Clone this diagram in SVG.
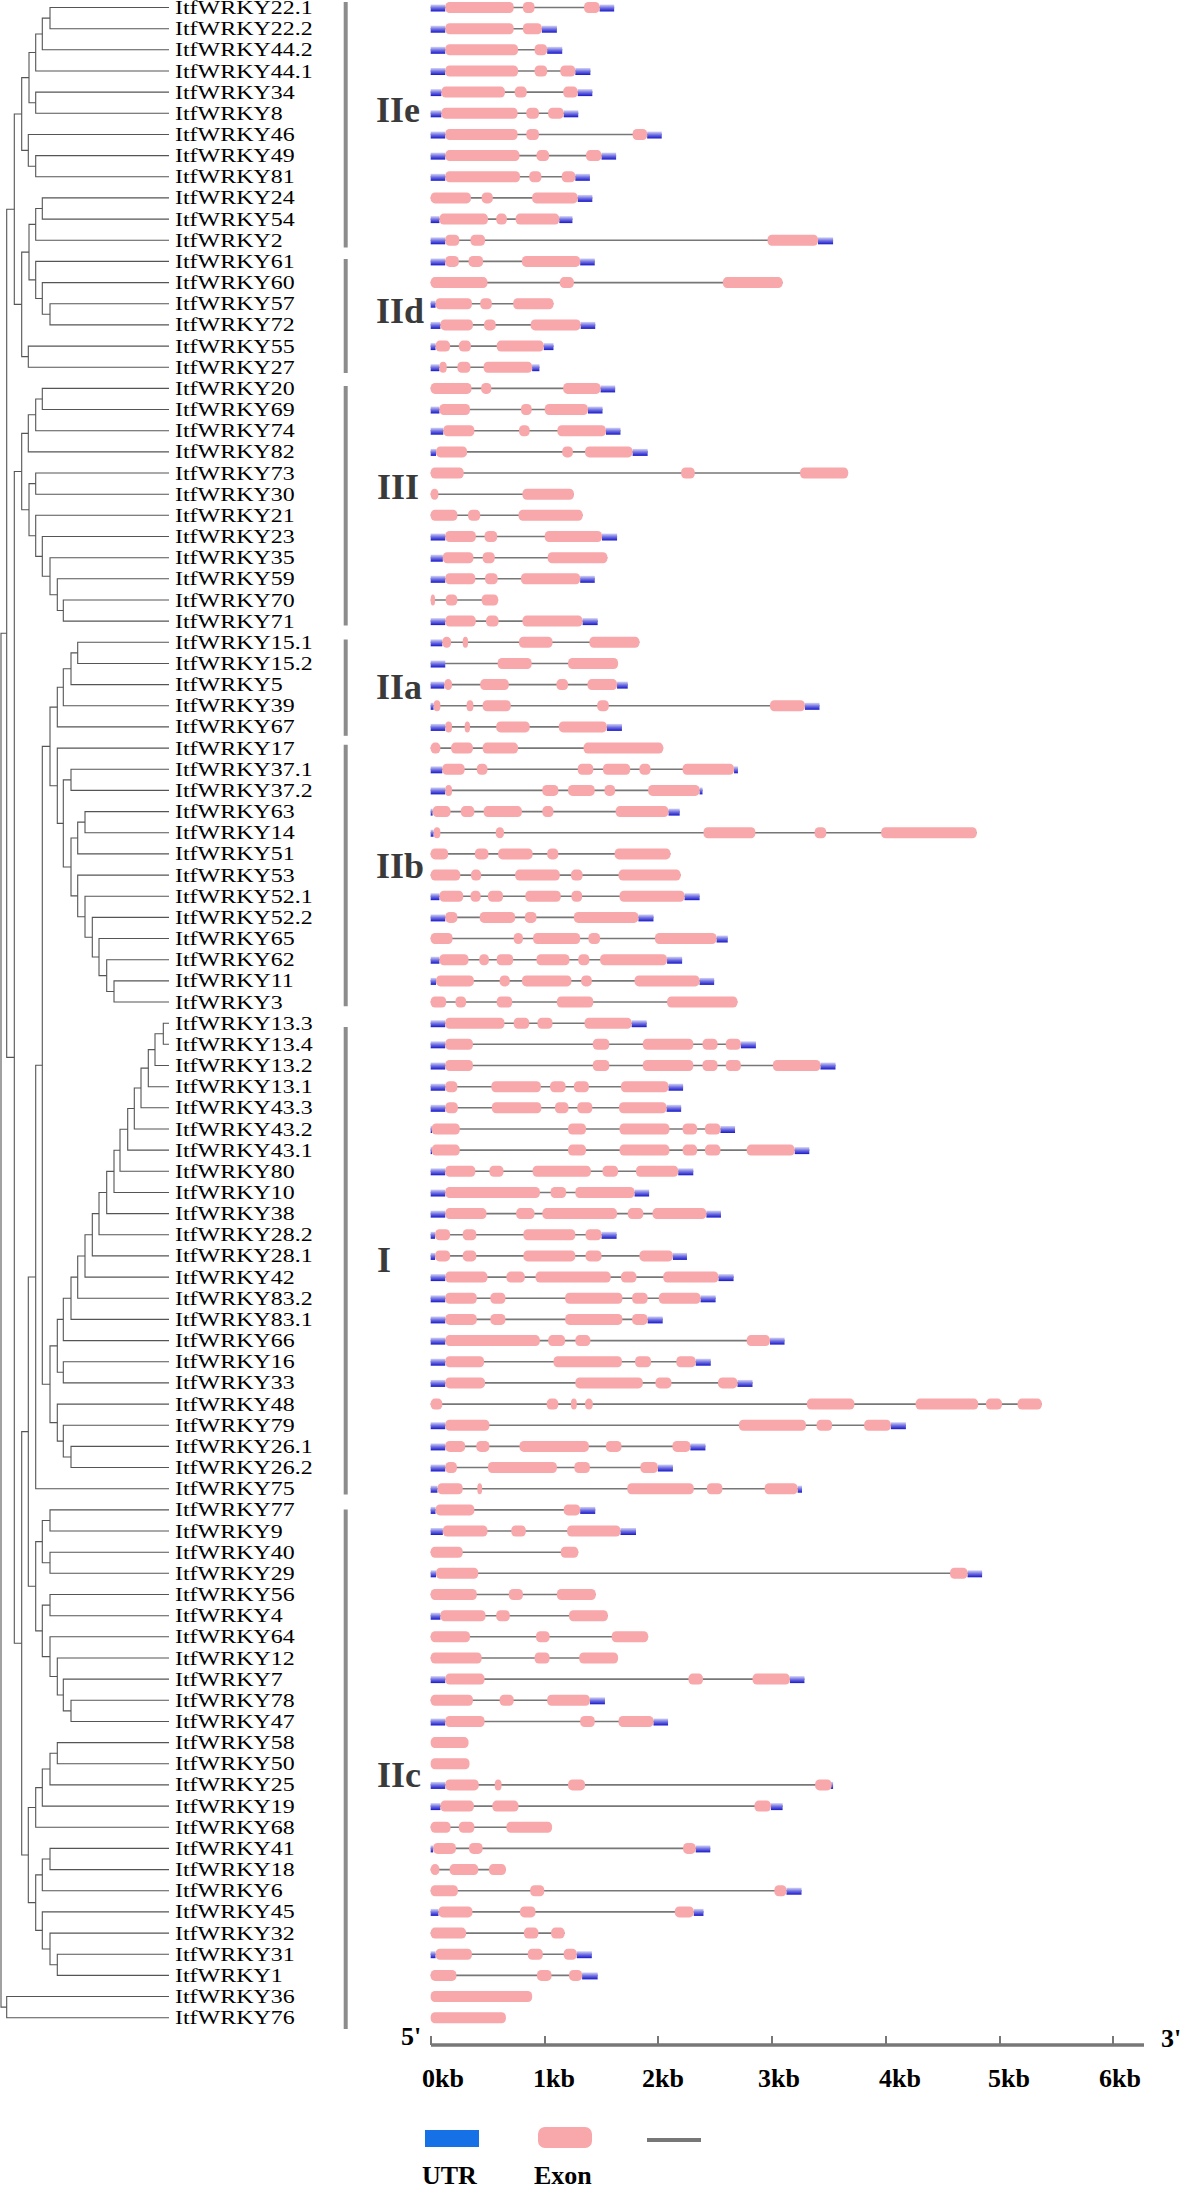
<svg xmlns="http://www.w3.org/2000/svg" width="1181" height="2186" viewBox="0 0 1181 2186">
<defs>
<linearGradient id="ug" x1="0" y1="0" x2="0" y2="1">
<stop offset="0" stop-color="#d4d4f6"/><stop offset="0.5" stop-color="#6c6ce2"/><stop offset="1" stop-color="#1818c8"/>
</linearGradient>
<style>
text.l{font-family:"Liberation Serif","Times New Roman",serif;font-size:19px;fill:#000}
.grp{font-family:"Liberation Serif","Times New Roman",serif;font-weight:bold;font-size:36px;fill:#3a3a3a}
.ax{font-family:"Liberation Serif","Times New Roman",serif;font-weight:bold;font-size:26px;fill:#000}
.i{stroke:#777;stroke-width:1.6}
.u{fill:url(#ug)}
.e{fill:#f8a8aa}
#connectors path{fill:none;stroke:#555;stroke-width:1.1}
.bar{stroke:#8c8c8c;stroke-width:4}
</style>
</defs>
<rect width="1181" height="2186" fill="#fff"/>
<g id="connectors">
<path d="M169 7.5H50V28.7H169"/><path d="M50 18.1H42.3V49.8H169"/><path d="M42.3 34H35.7V71H169"/><path d="M169 92.1H35.7V113.3H169"/><path d="M35.7 52.5H29V102.7H35.7"/><path d="M169 155.6H35.7V176.8H169"/><path d="M169 134.5H28.3V166.2H35.7"/><path d="M29 77.6H21.7V150.35H28.3"/>
<path d="M169 197.9H42.3V219.1H169"/><path d="M42.3 208.5H35.7V240.3H169"/><path d="M169 303.7H50V324.9H169"/><path d="M169 282.6H42.3V314.3H50"/><path d="M169 261.4H35.7V298.45H42.3"/><path d="M35.7 224.4H29V279.9H35.7"/><path d="M169 346.1H28.3V367.2H169"/><path d="M29 252.15H21.7V356.65H28.3"/><path d="M21.7 114H14.3V304.4H21.7"/>
<path d="M169 388.4H42.3V409.5H169"/><path d="M42.3 398.95H35.7V430.7H169"/><path d="M35.7 414.8H28.3V451.9H169"/><path d="M169 473H35.7V494.2H169"/><path d="M169 600H63.3V621.1H169"/><path d="M169 578.8H57.3V610.55H63.3"/><path d="M169 557.7H50V594.7H57.3"/><path d="M169 536.5H42.3V576.2H50"/><path d="M169 515.3H35.7V556.35H42.3"/><path d="M35.7 483.6H29V535.8H35.7"/><path d="M28.3 433.35H21.7V509.7H29"/>
<path d="M169 642.3H77.7V663.5H169"/><path d="M77.7 652.9H71V684.6H169"/><path d="M71 668.75H63.3V705.8H169"/><path d="M63.3 687.3H57.3V726.9H169"/>
<path d="M169 769.3H71V790.4H169"/><path d="M169 811.6H85V832.7H169"/><path d="M85 822.15H77.7V853.9H169"/><path d="M169 980.9H114V1002H169"/><path d="M169 959.7H106.7V991.45H114"/><path d="M169 938.5H99V975.6H106.7"/><path d="M169 917.4H92.3V957.05H99"/><path d="M169 896.2H85V937.2H92.3"/><path d="M169 875.1H77.7V916.7H85"/><path d="M77.7 838H71V895.9H77.7"/><path d="M71 779.85H63.3V866.95H71"/><path d="M169 748.1H57.3V823.4H63.3"/><path d="M57.3 707.1H50V785.75H57.3"/>
<path d="M169 1023.2H163.3V1044.3H169"/><path d="M163.3 1033.75H155V1065.5H169"/><path d="M155 1049.6H148.3V1086.7H169"/><path d="M148.3 1068.15H141V1107.8H169"/><path d="M141 1088H134.3V1129H169"/><path d="M134.3 1108.5H127.7V1150.1H169"/><path d="M127.7 1129.3H120V1171.3H169"/><path d="M120 1150.3H114V1192.5H169"/><path d="M114 1171.4H106.7V1213.6H169"/><path d="M106.7 1192.5H99V1234.8H169"/><path d="M99 1213.65H92.3V1255.9H169"/><path d="M92.3 1234.8H85V1277.1H169"/><path d="M85 1255.95H77.7V1298.3H169"/><path d="M77.7 1277.1H71V1319.4H169"/><path d="M71 1298.25H63.3V1340.6H169"/><path d="M169 1361.7H63.3V1382.9H169"/><path d="M63.3 1319.4H57.3V1372.3H63.3"/><path d="M169 1446.4H71V1467.5H169"/><path d="M169 1425.2H63.3V1456.95H71"/><path d="M169 1404.1H57.3V1441.1H63.3"/><path d="M57.3 1345.85H50V1422.6H57.3"/>
<path d="M50 746.4H42.3V1384.2H50"/><path d="M42.3 1065.3H35.7V1488.7H169"/>
<path d="M169 1509.9H50V1531H169"/><path d="M169 1552.2H50V1573.3H169"/><path d="M50 1520.45H42.3V1562.75H50"/><path d="M169 1594.5H50V1615.7H169"/><path d="M169 1700.3H71V1721.5H169"/><path d="M169 1679.1H63.3V1710.9H71"/><path d="M169 1658H57.3V1695H63.3"/><path d="M169 1636.8H50V1676.5H57.3"/><path d="M50 1605.1H42.3V1656.65H50"/><path d="M42.3 1541.6H35.7V1630.9H42.3"/><path d="M35.7 1277H28.3V1586.25H35.7"/>
<path d="M169 1742.6H57.3V1763.8H169"/><path d="M57.3 1753.2H50V1784.9H169"/><path d="M50 1769.05H42.3V1806.1H169"/><path d="M42.3 1787.6H35.7V1827.3H169"/><path d="M169 1848.4H50V1869.6H169"/><path d="M50 1859H42.3V1890.7H169"/><path d="M169 1954.2H57.3V1975.4H169"/><path d="M169 1933.1H50V1964.8H57.3"/><path d="M169 1911.9H42.3V1948.95H50"/><path d="M42.3 1874.85H35.7V1930.4H42.3"/><path d="M35.7 1807.45H28.3V1902.6H35.7"/>
<path d="M28.3 1431.6H21.7V1855H28.3"/><path d="M21.7 471.5H14.3V1643.3H21.7"/><path d="M14.3 209.2H6.7V1057.4H14.3"/><path d="M169 1996.5H6.7V2017.7H169"/><path d="M6.7 633.3H1V2007.1H6.7"/>
</g>
<g id="groups">
<line class="bar" x1="345.7" y1="2" x2="345.7" y2="247.5"/><text class="grp" x="376" y="122">IIe</text>
<line class="bar" x1="345.7" y1="259" x2="345.7" y2="373"/><text class="grp" x="376" y="323">IId</text>
<line class="bar" x1="345.7" y1="386" x2="345.7" y2="625.6"/><text class="grp" x="377" y="499">III</text>
<line class="bar" x1="345.7" y1="639.5" x2="345.7" y2="735.8"/><text class="grp" x="376" y="699">IIa</text>
<line class="bar" x1="345.7" y1="744.8" x2="345.7" y2="1006.2"/><text class="grp" x="376" y="878">IIb</text>
<line class="bar" x1="345.7" y1="1027" x2="345.7" y2="1494.5"/><text class="grp" x="377" y="1272">I</text>
<line class="bar" x1="345.7" y1="1509.4" x2="345.7" y2="2029"/><text class="grp" x="377" y="1787">IIc</text>
</g>
<g id="genes">
<g id="WRKY22_1" transform="translate(0 7.5)"><text class="l" transform="matrix(1.26 0 0 1 175 6.5)">ItfWRKY22.1</text><g transform="matrix(.4854 0 0 1 420 0)"><line class="i" x1="22" x2="400"/><rect class="u" x="22" y="-3" width="30" height="7"/><rect class="u" x="370" y="-3" width="30" height="7"/><rect class="e" x="52" y="-5.5" width="141" height="11" rx="9" ry="4.5"/><rect class="e" x="212" y="-5.5" width="24" height="11" rx="9" ry="4.5"/><rect class="e" x="338" y="-5.5" width="32" height="11" rx="9" ry="4.5"/></g></g>
<g id="WRKY22_2" transform="translate(0 28.7)"><text class="l" transform="matrix(1.26 0 0 1 175 6.5)">ItfWRKY22.2</text><g transform="matrix(.4854 0 0 1 420 0)"><line class="i" x1="22" x2="282"/><rect class="u" x="22" y="-3" width="30" height="7"/><rect class="u" x="251" y="-3" width="31" height="7"/><rect class="e" x="52" y="-5.5" width="141" height="11" rx="9" ry="4.5"/><rect class="e" x="212" y="-5.5" width="39" height="11" rx="9" ry="4.5"/></g></g>
<g id="WRKY44_2" transform="translate(0 49.8)"><text class="l" transform="matrix(1.26 0 0 1 175 6.5)">ItfWRKY44.2</text><g transform="matrix(.4854 0 0 1 420 0)"><line class="i" x1="22" x2="293"/><rect class="u" x="22" y="-3" width="30" height="7"/><rect class="u" x="262" y="-3" width="31" height="7"/><rect class="e" x="52" y="-5.5" width="150" height="11" rx="9" ry="4.5"/><rect class="e" x="236" y="-5.5" width="26" height="11" rx="9" ry="4.5"/></g></g>
<g id="WRKY44_1" transform="translate(0 71)"><text class="l" transform="matrix(1.26 0 0 1 175 6.5)">ItfWRKY44.1</text><g transform="matrix(.4854 0 0 1 420 0)"><line class="i" x1="22" x2="351"/><rect class="u" x="22" y="-3" width="30" height="7"/><rect class="u" x="320" y="-3" width="31" height="7"/><rect class="e" x="52" y="-5.5" width="150" height="11" rx="9" ry="4.5"/><rect class="e" x="236" y="-5.5" width="26" height="11" rx="9" ry="4.5"/><rect class="e" x="289" y="-5.5" width="31" height="11" rx="9" ry="4.5"/></g></g>
<g id="WRKY34" transform="translate(0 92.1)"><text class="l" transform="matrix(1.26 0 0 1 175 6.5)">ItfWRKY34</text><g transform="matrix(.4854 0 0 1 420 0)"><line class="i" x1="22" x2="355"/><rect class="u" x="22" y="-3" width="22" height="7"/><rect class="u" x="325" y="-3" width="30" height="7"/><rect class="e" x="44" y="-5.5" width="131" height="11" rx="9" ry="4.5"/><rect class="e" x="195" y="-5.5" width="25" height="11" rx="9" ry="4.5"/><rect class="e" x="295" y="-5.5" width="30" height="11" rx="9" ry="4.5"/></g></g>
<g id="WRKY8" transform="translate(0 113.3)"><text class="l" transform="matrix(1.26 0 0 1 175 6.5)">ItfWRKY8</text><g transform="matrix(.4854 0 0 1 420 0)"><line class="i" x1="22" x2="326"/><rect class="u" x="22" y="-3" width="22" height="7"/><rect class="u" x="296" y="-3" width="30" height="7"/><rect class="e" x="44" y="-5.5" width="157" height="11" rx="9" ry="4.5"/><rect class="e" x="219" y="-5.5" width="26" height="11" rx="9" ry="4.5"/><rect class="e" x="264" y="-5.5" width="32" height="11" rx="9" ry="4.5"/></g></g>
<g id="WRKY46" transform="translate(0 134.5)"><text class="l" transform="matrix(1.26 0 0 1 175 6.5)">ItfWRKY46</text><g transform="matrix(.4854 0 0 1 420 0)"><line class="i" x1="22" x2="498"/><rect class="u" x="22" y="-3" width="30" height="7"/><rect class="u" x="468" y="-3" width="30" height="7"/><rect class="e" x="52" y="-5.5" width="149" height="11" rx="9" ry="4.5"/><rect class="e" x="219" y="-5.5" width="26" height="11" rx="9" ry="4.5"/><rect class="e" x="438" y="-5.5" width="30" height="11" rx="9" ry="4.5"/></g></g>
<g id="WRKY49" transform="translate(0 155.6)"><text class="l" transform="matrix(1.26 0 0 1 175 6.5)">ItfWRKY49</text><g transform="matrix(.4854 0 0 1 420 0)"><line class="i" x1="22" x2="404"/><rect class="u" x="22" y="-3" width="30" height="7"/><rect class="u" x="374" y="-3" width="30" height="7"/><rect class="e" x="52" y="-5.5" width="153" height="11" rx="9" ry="4.5"/><rect class="e" x="240" y="-5.5" width="26" height="11" rx="9" ry="4.5"/><rect class="e" x="342" y="-5.5" width="32" height="11" rx="9" ry="4.5"/></g></g>
<g id="WRKY81" transform="translate(0 176.8)"><text class="l" transform="matrix(1.26 0 0 1 175 6.5)">ItfWRKY81</text><g transform="matrix(.4854 0 0 1 420 0)"><line class="i" x1="22" x2="350"/><rect class="u" x="22" y="-3" width="30" height="7"/><rect class="u" x="320" y="-3" width="30" height="7"/><rect class="e" x="52" y="-5.5" width="154" height="11" rx="9" ry="4.5"/><rect class="e" x="225" y="-5.5" width="25" height="11" rx="9" ry="4.5"/><rect class="e" x="292" y="-5.5" width="28" height="11" rx="9" ry="4.5"/></g></g>
<g id="WRKY24" transform="translate(0 197.9)"><text class="l" transform="matrix(1.26 0 0 1 175 6.5)">ItfWRKY24</text><g transform="matrix(.4854 0 0 1 420 0)"><line class="i" x1="22" x2="355"/><rect class="u" x="325" y="-3" width="30" height="7"/><rect class="e" x="22" y="-5.5" width="83" height="11" rx="9" ry="4.5"/><rect class="e" x="127" y="-5.5" width="23" height="11" rx="9" ry="4.5"/><rect class="e" x="231" y="-5.5" width="94" height="11" rx="9" ry="4.5"/></g></g>
<g id="WRKY54" transform="translate(0 219.1)"><text class="l" transform="matrix(1.26 0 0 1 175 6.5)">ItfWRKY54</text><g transform="matrix(.4854 0 0 1 420 0)"><line class="i" x1="22" x2="314"/><rect class="u" x="22" y="-3" width="18" height="7"/><rect class="u" x="287" y="-3" width="27" height="7"/><rect class="e" x="40" y="-5.5" width="100" height="11" rx="9" ry="4.5"/><rect class="e" x="157" y="-5.5" width="22" height="11" rx="9" ry="4.5"/><rect class="e" x="197" y="-5.5" width="90" height="11" rx="9" ry="4.5"/></g></g>
<g id="WRKY2" transform="translate(0 240.3)"><text class="l" transform="matrix(1.26 0 0 1 175 6.5)">ItfWRKY2</text><g transform="matrix(.4854 0 0 1 420 0)"><line class="i" x1="22" x2="851"/><rect class="u" x="22" y="-3" width="30" height="7"/><rect class="u" x="820" y="-3" width="31" height="7"/><rect class="e" x="52" y="-5.5" width="29" height="11" rx="9" ry="4.5"/><rect class="e" x="104" y="-5.5" width="30" height="11" rx="9" ry="4.5"/><rect class="e" x="716" y="-5.5" width="104" height="11" rx="9" ry="4.5"/></g></g>
<g id="WRKY61" transform="translate(0 261.4)"><text class="l" transform="matrix(1.26 0 0 1 175 6.5)">ItfWRKY61</text><g transform="matrix(.4854 0 0 1 420 0)"><line class="i" x1="22" x2="360"/><rect class="u" x="22" y="-3" width="30" height="7"/><rect class="u" x="330" y="-3" width="30" height="7"/><rect class="e" x="52" y="-5.5" width="28" height="11" rx="9" ry="4.5"/><rect class="e" x="100" y="-5.5" width="30" height="11" rx="9" ry="4.5"/><rect class="e" x="210" y="-5.5" width="120" height="11" rx="9" ry="4.5"/></g></g>
<g id="WRKY60" transform="translate(0 282.6)"><text class="l" transform="matrix(1.26 0 0 1 175 6.5)">ItfWRKY60</text><g transform="matrix(.4854 0 0 1 420 0)"><line class="i" x1="22" x2="747"/><rect class="e" x="22" y="-5.5" width="117" height="11" rx="9" ry="4.5"/><rect class="e" x="288" y="-5.5" width="29" height="11" rx="9" ry="4.5"/><rect class="e" x="624" y="-5.5" width="123" height="11" rx="9" ry="4.5"/></g></g>
<g id="WRKY57" transform="translate(0 303.7)"><text class="l" transform="matrix(1.26 0 0 1 175 6.5)">ItfWRKY57</text><g transform="matrix(.4854 0 0 1 420 0)"><line class="i" x1="22" x2="275"/><rect class="u" x="22" y="-3" width="10" height="7"/><rect class="e" x="32" y="-5.5" width="75" height="11" rx="9" ry="4.5"/><rect class="e" x="124" y="-5.5" width="24" height="11" rx="9" ry="4.5"/><rect class="e" x="192" y="-5.5" width="83" height="11" rx="9" ry="4.5"/></g></g>
<g id="WRKY72" transform="translate(0 324.9)"><text class="l" transform="matrix(1.26 0 0 1 175 6.5)">ItfWRKY72</text><g transform="matrix(.4854 0 0 1 420 0)"><line class="i" x1="22" x2="361"/><rect class="u" x="22" y="-3" width="20" height="7"/><rect class="u" x="331" y="-3" width="30" height="7"/><rect class="e" x="42" y="-5.5" width="67" height="11" rx="9" ry="4.5"/><rect class="e" x="132" y="-5.5" width="24" height="11" rx="9" ry="4.5"/><rect class="e" x="228" y="-5.5" width="103" height="11" rx="9" ry="4.5"/></g></g>
<g id="WRKY55" transform="translate(0 346.1)"><text class="l" transform="matrix(1.26 0 0 1 175 6.5)">ItfWRKY55</text><g transform="matrix(.4854 0 0 1 420 0)"><line class="i" x1="22" x2="275"/><rect class="u" x="22" y="-3" width="10" height="7"/><rect class="u" x="255" y="-3" width="20" height="7"/><rect class="e" x="32" y="-5.5" width="30" height="11" rx="9" ry="4.5"/><rect class="e" x="80" y="-5.5" width="25" height="11" rx="9" ry="4.5"/><rect class="e" x="158" y="-5.5" width="97" height="11" rx="9" ry="4.5"/></g></g>
<g id="WRKY27" transform="translate(0 367.2)"><text class="l" transform="matrix(1.26 0 0 1 175 6.5)">ItfWRKY27</text><g transform="matrix(.4854 0 0 1 420 0)"><line class="i" x1="22" x2="246"/><rect class="u" x="22" y="-3" width="18" height="7"/><rect class="u" x="231" y="-3" width="15" height="7"/><rect class="e" x="40" y="-5.5" width="15" height="11" rx="9" ry="4.5"/><rect class="e" x="77" y="-5.5" width="27" height="11" rx="9" ry="4.5"/><rect class="e" x="131" y="-5.5" width="100" height="11" rx="9" ry="4.5"/></g></g>
<g id="WRKY20" transform="translate(0 388.4)"><text class="l" transform="matrix(1.26 0 0 1 175 6.5)">ItfWRKY20</text><g transform="matrix(.4854 0 0 1 420 0)"><line class="i" x1="22" x2="402"/><rect class="u" x="372" y="-3" width="30" height="7"/><rect class="e" x="22" y="-5.5" width="84" height="11" rx="9" ry="4.5"/><rect class="e" x="126" y="-5.5" width="21" height="11" rx="9" ry="4.5"/><rect class="e" x="295" y="-5.5" width="77" height="11" rx="9" ry="4.5"/></g></g>
<g id="WRKY69" transform="translate(0 409.5)"><text class="l" transform="matrix(1.26 0 0 1 175 6.5)">ItfWRKY69</text><g transform="matrix(.4854 0 0 1 420 0)"><line class="i" x1="22" x2="376"/><rect class="u" x="22" y="-3" width="18" height="7"/><rect class="u" x="346" y="-3" width="30" height="7"/><rect class="e" x="40" y="-5.5" width="63" height="11" rx="9" ry="4.5"/><rect class="e" x="208" y="-5.5" width="22" height="11" rx="9" ry="4.5"/><rect class="e" x="257" y="-5.5" width="89" height="11" rx="9" ry="4.5"/></g></g>
<g id="WRKY74" transform="translate(0 430.7)"><text class="l" transform="matrix(1.26 0 0 1 175 6.5)">ItfWRKY74</text><g transform="matrix(.4854 0 0 1 420 0)"><line class="i" x1="22" x2="413"/><rect class="u" x="22" y="-3" width="26" height="7"/><rect class="u" x="383" y="-3" width="30" height="7"/><rect class="e" x="48" y="-5.5" width="64" height="11" rx="9" ry="4.5"/><rect class="e" x="204" y="-5.5" width="22" height="11" rx="9" ry="4.5"/><rect class="e" x="283" y="-5.5" width="100" height="11" rx="9" ry="4.5"/></g></g>
<g id="WRKY82" transform="translate(0 451.9)"><text class="l" transform="matrix(1.26 0 0 1 175 6.5)">ItfWRKY82</text><g transform="matrix(.4854 0 0 1 420 0)"><line class="i" x1="22" x2="469"/><rect class="u" x="22" y="-3" width="11" height="7"/><rect class="u" x="438" y="-3" width="31" height="7"/><rect class="e" x="33" y="-5.5" width="64" height="11" rx="9" ry="4.5"/><rect class="e" x="293" y="-5.5" width="22" height="11" rx="9" ry="4.5"/><rect class="e" x="340" y="-5.5" width="98" height="11" rx="9" ry="4.5"/></g></g>
<g id="WRKY73" transform="translate(0 473)"><text class="l" transform="matrix(1.26 0 0 1 175 6.5)">ItfWRKY73</text><g transform="matrix(.4854 0 0 1 420 0)"><line class="i" x1="22" x2="882"/><rect class="e" x="22" y="-5.5" width="68" height="11" rx="9" ry="4.5"/><rect class="e" x="538" y="-5.5" width="28" height="11" rx="9" ry="4.5"/><rect class="e" x="783" y="-5.5" width="99" height="11" rx="9" ry="4.5"/></g></g>
<g id="WRKY30" transform="translate(0 494.2)"><text class="l" transform="matrix(1.26 0 0 1 175 6.5)">ItfWRKY30</text><g transform="matrix(.4854 0 0 1 420 0)"><line class="i" x1="22" x2="317"/><rect class="e" x="22" y="-5.5" width="16" height="11" rx="9" ry="4.5"/><rect class="e" x="211" y="-5.5" width="106" height="11" rx="9" ry="4.5"/></g></g>
<g id="WRKY21" transform="translate(0 515.3)"><text class="l" transform="matrix(1.26 0 0 1 175 6.5)">ItfWRKY21</text><g transform="matrix(.4854 0 0 1 420 0)"><line class="i" x1="22" x2="335"/><rect class="e" x="22" y="-5.5" width="55" height="11" rx="9" ry="4.5"/><rect class="e" x="99" y="-5.5" width="25" height="11" rx="9" ry="4.5"/><rect class="e" x="203" y="-5.5" width="132" height="11" rx="9" ry="4.5"/></g></g>
<g id="WRKY23" transform="translate(0 536.5)"><text class="l" transform="matrix(1.26 0 0 1 175 6.5)">ItfWRKY23</text><g transform="matrix(.4854 0 0 1 420 0)"><line class="i" x1="22" x2="406"/><rect class="u" x="22" y="-3" width="30" height="7"/><rect class="u" x="375" y="-3" width="31" height="7"/><rect class="e" x="52" y="-5.5" width="63" height="11" rx="9" ry="4.5"/><rect class="e" x="133" y="-5.5" width="26" height="11" rx="9" ry="4.5"/><rect class="e" x="257" y="-5.5" width="118" height="11" rx="9" ry="4.5"/></g></g>
<g id="WRKY35" transform="translate(0 557.7)"><text class="l" transform="matrix(1.26 0 0 1 175 6.5)">ItfWRKY35</text><g transform="matrix(.4854 0 0 1 420 0)"><line class="i" x1="22" x2="386"/><rect class="u" x="22" y="-3" width="25" height="7"/><rect class="e" x="47" y="-5.5" width="63" height="11" rx="9" ry="4.5"/><rect class="e" x="129" y="-5.5" width="25" height="11" rx="9" ry="4.5"/><rect class="e" x="263" y="-5.5" width="123" height="11" rx="9" ry="4.5"/></g></g>
<g id="WRKY59" transform="translate(0 578.8)"><text class="l" transform="matrix(1.26 0 0 1 175 6.5)">ItfWRKY59</text><g transform="matrix(.4854 0 0 1 420 0)"><line class="i" x1="22" x2="360"/><rect class="u" x="22" y="-3" width="30" height="7"/><rect class="u" x="330" y="-3" width="30" height="7"/><rect class="e" x="52" y="-5.5" width="62" height="11" rx="9" ry="4.5"/><rect class="e" x="134" y="-5.5" width="26" height="11" rx="9" ry="4.5"/><rect class="e" x="208" y="-5.5" width="122" height="11" rx="9" ry="4.5"/></g></g>
<g id="WRKY70" transform="translate(0 600)"><text class="l" transform="matrix(1.26 0 0 1 175 6.5)">ItfWRKY70</text><g transform="matrix(.4854 0 0 1 420 0)"><line class="i" x1="22" x2="161"/><rect class="e" x="22" y="-5.5" width="9" height="11" rx="9" ry="4.5"/><rect class="e" x="53" y="-5.5" width="24" height="11" rx="9" ry="4.5"/><rect class="e" x="127" y="-5.5" width="34" height="11" rx="9" ry="4.5"/></g></g>
<g id="WRKY71" transform="translate(0 621.1)"><text class="l" transform="matrix(1.26 0 0 1 175 6.5)">ItfWRKY71</text><g transform="matrix(.4854 0 0 1 420 0)"><line class="i" x1="22" x2="366"/><rect class="u" x="22" y="-3" width="30" height="7"/><rect class="u" x="335" y="-3" width="31" height="7"/><rect class="e" x="52" y="-5.5" width="63" height="11" rx="9" ry="4.5"/><rect class="e" x="136" y="-5.5" width="26" height="11" rx="9" ry="4.5"/><rect class="e" x="211" y="-5.5" width="124" height="11" rx="9" ry="4.5"/></g></g>
<g id="WRKY15_1" transform="translate(0 642.3)"><text class="l" transform="matrix(1.26 0 0 1 175 6.5)">ItfWRKY15.1</text><g transform="matrix(.4854 0 0 1 420 0)"><line class="i" x1="22" x2="452"/><rect class="u" x="22" y="-3" width="24" height="7"/><rect class="e" x="46" y="-5.5" width="18" height="11" rx="9" ry="4.5"/><rect class="e" x="88" y="-5.5" width="11" height="11" rx="9" ry="4.5"/><rect class="e" x="204" y="-5.5" width="69" height="11" rx="9" ry="4.5"/><rect class="e" x="349" y="-5.5" width="103" height="11" rx="9" ry="4.5"/></g></g>
<g id="WRKY15_2" transform="translate(0 663.5)"><text class="l" transform="matrix(1.26 0 0 1 175 6.5)">ItfWRKY15.2</text><g transform="matrix(.4854 0 0 1 420 0)"><line class="i" x1="22" x2="408"/><rect class="u" x="22" y="-3" width="30" height="7"/><rect class="e" x="160" y="-5.5" width="70" height="11" rx="9" ry="4.5"/><rect class="e" x="305" y="-5.5" width="103" height="11" rx="9" ry="4.5"/></g></g>
<g id="WRKY5" transform="translate(0 684.6)"><text class="l" transform="matrix(1.26 0 0 1 175 6.5)">ItfWRKY5</text><g transform="matrix(.4854 0 0 1 420 0)"><line class="i" x1="22" x2="428"/><rect class="u" x="22" y="-3" width="28" height="7"/><rect class="u" x="406" y="-3" width="22" height="7"/><rect class="e" x="50" y="-5.5" width="16" height="11" rx="9" ry="4.5"/><rect class="e" x="124" y="-5.5" width="59" height="11" rx="9" ry="4.5"/><rect class="e" x="281" y="-5.5" width="24" height="11" rx="9" ry="4.5"/><rect class="e" x="345" y="-5.5" width="61" height="11" rx="9" ry="4.5"/></g></g>
<g id="WRKY39" transform="translate(0 705.8)"><text class="l" transform="matrix(1.26 0 0 1 175 6.5)">ItfWRKY39</text><g transform="matrix(.4854 0 0 1 420 0)"><line class="i" x1="22" x2="823"/><rect class="u" x="22" y="-3" width="6" height="7"/><rect class="u" x="793" y="-3" width="30" height="7"/><rect class="e" x="28" y="-5.5" width="14" height="11" rx="9" ry="4.5"/><rect class="e" x="96" y="-5.5" width="14" height="11" rx="9" ry="4.5"/><rect class="e" x="129" y="-5.5" width="58" height="11" rx="9" ry="4.5"/><rect class="e" x="365" y="-5.5" width="24" height="11" rx="9" ry="4.5"/><rect class="e" x="721" y="-5.5" width="72" height="11" rx="9" ry="4.5"/></g></g>
<g id="WRKY67" transform="translate(0 726.9)"><text class="l" transform="matrix(1.26 0 0 1 175 6.5)">ItfWRKY67</text><g transform="matrix(.4854 0 0 1 420 0)"><line class="i" x1="22" x2="416"/><rect class="u" x="22" y="-3" width="30" height="7"/><rect class="u" x="385" y="-3" width="31" height="7"/><rect class="e" x="52" y="-5.5" width="14" height="11" rx="9" ry="4.5"/><rect class="e" x="92" y="-5.5" width="11" height="11" rx="9" ry="4.5"/><rect class="e" x="157" y="-5.5" width="69" height="11" rx="9" ry="4.5"/><rect class="e" x="286" y="-5.5" width="99" height="11" rx="9" ry="4.5"/></g></g>
<g id="WRKY17" transform="translate(0 748.1)"><text class="l" transform="matrix(1.26 0 0 1 175 6.5)">ItfWRKY17</text><g transform="matrix(.4854 0 0 1 420 0)"><line class="i" x1="22" x2="501"/><rect class="e" x="22" y="-5.5" width="20" height="11" rx="9" ry="4.5"/><rect class="e" x="64" y="-5.5" width="45" height="11" rx="9" ry="4.5"/><rect class="e" x="129" y="-5.5" width="73" height="11" rx="9" ry="4.5"/><rect class="e" x="337" y="-5.5" width="164" height="11" rx="9" ry="4.5"/></g></g>
<g id="WRKY37_1" transform="translate(0 769.3)"><text class="l" transform="matrix(1.26 0 0 1 175 6.5)">ItfWRKY37.1</text><g transform="matrix(.4854 0 0 1 420 0)"><line class="i" x1="22" x2="655"/><rect class="u" x="22" y="-3" width="24" height="7"/><rect class="u" x="647" y="-3" width="8" height="7"/><rect class="e" x="46" y="-5.5" width="46" height="11" rx="9" ry="4.5"/><rect class="e" x="117" y="-5.5" width="22" height="11" rx="9" ry="4.5"/><rect class="e" x="325" y="-5.5" width="32" height="11" rx="9" ry="4.5"/><rect class="e" x="377" y="-5.5" width="56" height="11" rx="9" ry="4.5"/><rect class="e" x="452" y="-5.5" width="23" height="11" rx="9" ry="4.5"/><rect class="e" x="541" y="-5.5" width="106" height="11" rx="9" ry="4.5"/></g></g>
<g id="WRKY37_2" transform="translate(0 790.4)"><text class="l" transform="matrix(1.26 0 0 1 175 6.5)">ItfWRKY37.2</text><g transform="matrix(.4854 0 0 1 420 0)"><line class="i" x1="22" x2="582"/><rect class="u" x="22" y="-3" width="30" height="7"/><rect class="u" x="576" y="-3" width="6" height="7"/><rect class="e" x="52" y="-5.5" width="14" height="11" rx="9" ry="4.5"/><rect class="e" x="252" y="-5.5" width="33" height="11" rx="9" ry="4.5"/><rect class="e" x="305" y="-5.5" width="55" height="11" rx="9" ry="4.5"/><rect class="e" x="380" y="-5.5" width="22" height="11" rx="9" ry="4.5"/><rect class="e" x="470" y="-5.5" width="106" height="11" rx="9" ry="4.5"/></g></g>
<g id="WRKY63" transform="translate(0 811.6)"><text class="l" transform="matrix(1.26 0 0 1 175 6.5)">ItfWRKY63</text><g transform="matrix(.4854 0 0 1 420 0)"><line class="i" x1="22" x2="535"/><rect class="u" x="22" y="-3" width="4" height="7"/><rect class="u" x="512" y="-3" width="23" height="7"/><rect class="e" x="26" y="-5.5" width="37" height="11" rx="9" ry="4.5"/><rect class="e" x="84" y="-5.5" width="28" height="11" rx="9" ry="4.5"/><rect class="e" x="131" y="-5.5" width="79" height="11" rx="9" ry="4.5"/><rect class="e" x="252" y="-5.5" width="23" height="11" rx="9" ry="4.5"/><rect class="e" x="403" y="-5.5" width="109" height="11" rx="9" ry="4.5"/></g></g>
<g id="WRKY14" transform="translate(0 832.7)"><text class="l" transform="matrix(1.26 0 0 1 175 6.5)">ItfWRKY14</text><g transform="matrix(.4854 0 0 1 420 0)"><line class="i" x1="22" x2="1147"/><rect class="u" x="22" y="-3" width="6" height="7"/><rect class="e" x="28" y="-5.5" width="14" height="11" rx="9" ry="4.5"/><rect class="e" x="156" y="-5.5" width="17" height="11" rx="9" ry="4.5"/><rect class="e" x="584" y="-5.5" width="107" height="11" rx="9" ry="4.5"/><rect class="e" x="813" y="-5.5" width="24" height="11" rx="9" ry="4.5"/><rect class="e" x="950" y="-5.5" width="197" height="11" rx="9" ry="4.5"/></g></g>
<g id="WRKY51" transform="translate(0 853.9)"><text class="l" transform="matrix(1.26 0 0 1 175 6.5)">ItfWRKY51</text><g transform="matrix(.4854 0 0 1 420 0)"><line class="i" x1="22" x2="516"/><rect class="e" x="22" y="-5.5" width="36" height="11" rx="9" ry="4.5"/><rect class="e" x="113" y="-5.5" width="28" height="11" rx="9" ry="4.5"/><rect class="e" x="161" y="-5.5" width="71" height="11" rx="9" ry="4.5"/><rect class="e" x="262" y="-5.5" width="23" height="11" rx="9" ry="4.5"/><rect class="e" x="401" y="-5.5" width="115" height="11" rx="9" ry="4.5"/></g></g>
<g id="WRKY53" transform="translate(0 875.1)"><text class="l" transform="matrix(1.26 0 0 1 175 6.5)">ItfWRKY53</text><g transform="matrix(.4854 0 0 1 420 0)"><line class="i" x1="22" x2="537"/><rect class="e" x="22" y="-5.5" width="61" height="11" rx="9" ry="4.5"/><rect class="e" x="105" y="-5.5" width="21" height="11" rx="9" ry="4.5"/><rect class="e" x="196" y="-5.5" width="92" height="11" rx="9" ry="4.5"/><rect class="e" x="311" y="-5.5" width="24" height="11" rx="9" ry="4.5"/><rect class="e" x="409" y="-5.5" width="128" height="11" rx="9" ry="4.5"/></g></g>
<g id="WRKY52_1" transform="translate(0 896.2)"><text class="l" transform="matrix(1.26 0 0 1 175 6.5)">ItfWRKY52.1</text><g transform="matrix(.4854 0 0 1 420 0)"><line class="i" x1="22" x2="576"/><rect class="u" x="22" y="-3" width="18" height="7"/><rect class="u" x="545" y="-3" width="31" height="7"/><rect class="e" x="40" y="-5.5" width="49" height="11" rx="9" ry="4.5"/><rect class="e" x="104" y="-5.5" width="21" height="11" rx="9" ry="4.5"/><rect class="e" x="140" y="-5.5" width="31" height="11" rx="9" ry="4.5"/><rect class="e" x="217" y="-5.5" width="73" height="11" rx="9" ry="4.5"/><rect class="e" x="312" y="-5.5" width="22" height="11" rx="9" ry="4.5"/><rect class="e" x="411" y="-5.5" width="134" height="11" rx="9" ry="4.5"/></g></g>
<g id="WRKY52_2" transform="translate(0 917.4)"><text class="l" transform="matrix(1.26 0 0 1 175 6.5)">ItfWRKY52.2</text><g transform="matrix(.4854 0 0 1 420 0)"><line class="i" x1="22" x2="481"/><rect class="u" x="22" y="-3" width="30" height="7"/><rect class="u" x="450" y="-3" width="31" height="7"/><rect class="e" x="52" y="-5.5" width="25" height="11" rx="9" ry="4.5"/><rect class="e" x="123" y="-5.5" width="73" height="11" rx="9" ry="4.5"/><rect class="e" x="216" y="-5.5" width="24" height="11" rx="9" ry="4.5"/><rect class="e" x="317" y="-5.5" width="133" height="11" rx="9" ry="4.5"/></g></g>
<g id="WRKY65" transform="translate(0 938.5)"><text class="l" transform="matrix(1.26 0 0 1 175 6.5)">ItfWRKY65</text><g transform="matrix(.4854 0 0 1 420 0)"><line class="i" x1="22" x2="634"/><rect class="u" x="611" y="-3" width="23" height="7"/><rect class="e" x="22" y="-5.5" width="45" height="11" rx="9" ry="4.5"/><rect class="e" x="193" y="-5.5" width="19" height="11" rx="9" ry="4.5"/><rect class="e" x="233" y="-5.5" width="97" height="11" rx="9" ry="4.5"/><rect class="e" x="347" y="-5.5" width="24" height="11" rx="9" ry="4.5"/><rect class="e" x="484" y="-5.5" width="127" height="11" rx="9" ry="4.5"/></g></g>
<g id="WRKY62" transform="translate(0 959.7)"><text class="l" transform="matrix(1.26 0 0 1 175 6.5)">ItfWRKY62</text><g transform="matrix(.4854 0 0 1 420 0)"><line class="i" x1="22" x2="540"/><rect class="u" x="22" y="-3" width="18" height="7"/><rect class="u" x="509" y="-3" width="31" height="7"/><rect class="e" x="40" y="-5.5" width="60" height="11" rx="9" ry="4.5"/><rect class="e" x="122" y="-5.5" width="20" height="11" rx="9" ry="4.5"/><rect class="e" x="158" y="-5.5" width="34" height="11" rx="9" ry="4.5"/><rect class="e" x="240" y="-5.5" width="68" height="11" rx="9" ry="4.5"/><rect class="e" x="326" y="-5.5" width="23" height="11" rx="9" ry="4.5"/><rect class="e" x="371" y="-5.5" width="138" height="11" rx="9" ry="4.5"/></g></g>
<g id="WRKY11" transform="translate(0 980.9)"><text class="l" transform="matrix(1.26 0 0 1 175 6.5)">ItfWRKY11</text><g transform="matrix(.4854 0 0 1 420 0)"><line class="i" x1="22" x2="606"/><rect class="u" x="22" y="-3" width="11" height="7"/><rect class="u" x="576" y="-3" width="30" height="7"/><rect class="e" x="33" y="-5.5" width="78" height="11" rx="9" ry="4.5"/><rect class="e" x="164" y="-5.5" width="21" height="11" rx="9" ry="4.5"/><rect class="e" x="210" y="-5.5" width="102" height="11" rx="9" ry="4.5"/><rect class="e" x="332" y="-5.5" width="22" height="11" rx="9" ry="4.5"/><rect class="e" x="442" y="-5.5" width="134" height="11" rx="9" ry="4.5"/></g></g>
<g id="WRKY3" transform="translate(0 1002)"><text class="l" transform="matrix(1.26 0 0 1 175 6.5)">ItfWRKY3</text><g transform="matrix(.4854 0 0 1 420 0)"><line class="i" x1="22" x2="654"/><rect class="e" x="22" y="-5.5" width="32" height="11" rx="9" ry="4.5"/><rect class="e" x="73" y="-5.5" width="22" height="11" rx="9" ry="4.5"/><rect class="e" x="158" y="-5.5" width="32" height="11" rx="9" ry="4.5"/><rect class="e" x="282" y="-5.5" width="75" height="11" rx="9" ry="4.5"/><rect class="e" x="509" y="-5.5" width="145" height="11" rx="9" ry="4.5"/></g></g>
<g id="WRKY13_3" transform="translate(0 1023.2)"><text class="l" transform="matrix(1.26 0 0 1 175 6.5)">ItfWRKY13.3</text><g transform="matrix(.4854 0 0 1 420 0)"><line class="i" x1="22" x2="467"/><rect class="u" x="22" y="-3" width="30" height="7"/><rect class="u" x="436" y="-3" width="31" height="7"/><rect class="e" x="52" y="-5.5" width="122" height="11" rx="9" ry="4.5"/><rect class="e" x="193" y="-5.5" width="32" height="11" rx="9" ry="4.5"/><rect class="e" x="242" y="-5.5" width="31" height="11" rx="9" ry="4.5"/><rect class="e" x="339" y="-5.5" width="97" height="11" rx="9" ry="4.5"/></g></g>
<g id="WRKY13_4" transform="translate(0 1044.3)"><text class="l" transform="matrix(1.26 0 0 1 175 6.5)">ItfWRKY13.4</text><g transform="matrix(.4854 0 0 1 420 0)"><line class="i" x1="22" x2="692"/><rect class="u" x="22" y="-3" width="30" height="7"/><rect class="u" x="661" y="-3" width="31" height="7"/><rect class="e" x="52" y="-5.5" width="57" height="11" rx="9" ry="4.5"/><rect class="e" x="356" y="-5.5" width="34" height="11" rx="9" ry="4.5"/><rect class="e" x="459" y="-5.5" width="104" height="11" rx="9" ry="4.5"/><rect class="e" x="582" y="-5.5" width="31" height="11" rx="9" ry="4.5"/><rect class="e" x="630" y="-5.5" width="31" height="11" rx="9" ry="4.5"/></g></g>
<g id="WRKY13_2" transform="translate(0 1065.5)"><text class="l" transform="matrix(1.26 0 0 1 175 6.5)">ItfWRKY13.2</text><g transform="matrix(.4854 0 0 1 420 0)"><line class="i" x1="22" x2="856"/><rect class="u" x="22" y="-3" width="30" height="7"/><rect class="u" x="825" y="-3" width="31" height="7"/><rect class="e" x="52" y="-5.5" width="57" height="11" rx="9" ry="4.5"/><rect class="e" x="356" y="-5.5" width="34" height="11" rx="9" ry="4.5"/><rect class="e" x="459" y="-5.5" width="104" height="11" rx="9" ry="4.5"/><rect class="e" x="582" y="-5.5" width="31" height="11" rx="9" ry="4.5"/><rect class="e" x="630" y="-5.5" width="31" height="11" rx="9" ry="4.5"/><rect class="e" x="727" y="-5.5" width="98" height="11" rx="9" ry="4.5"/></g></g>
<g id="WRKY13_1" transform="translate(0 1086.7)"><text class="l" transform="matrix(1.26 0 0 1 175 6.5)">ItfWRKY13.1</text><g transform="matrix(.4854 0 0 1 420 0)"><line class="i" x1="22" x2="542"/><rect class="u" x="22" y="-3" width="30" height="7"/><rect class="u" x="512" y="-3" width="30" height="7"/><rect class="e" x="52" y="-5.5" width="25" height="11" rx="9" ry="4.5"/><rect class="e" x="147" y="-5.5" width="102" height="11" rx="9" ry="4.5"/><rect class="e" x="268" y="-5.5" width="32" height="11" rx="9" ry="4.5"/><rect class="e" x="317" y="-5.5" width="31" height="11" rx="9" ry="4.5"/><rect class="e" x="414" y="-5.5" width="98" height="11" rx="9" ry="4.5"/></g></g>
<g id="WRKY43_3" transform="translate(0 1107.8)"><text class="l" transform="matrix(1.26 0 0 1 175 6.5)">ItfWRKY43.3</text><g transform="matrix(.4854 0 0 1 420 0)"><line class="i" x1="22" x2="538"/><rect class="u" x="22" y="-3" width="30" height="7"/><rect class="u" x="508" y="-3" width="30" height="7"/><rect class="e" x="52" y="-5.5" width="26" height="11" rx="9" ry="4.5"/><rect class="e" x="148" y="-5.5" width="102" height="11" rx="9" ry="4.5"/><rect class="e" x="278" y="-5.5" width="28" height="11" rx="9" ry="4.5"/><rect class="e" x="324" y="-5.5" width="31" height="11" rx="9" ry="4.5"/><rect class="e" x="410" y="-5.5" width="98" height="11" rx="9" ry="4.5"/></g></g>
<g id="WRKY43_2" transform="translate(0 1129)"><text class="l" transform="matrix(1.26 0 0 1 175 6.5)">ItfWRKY43.2</text><g transform="matrix(.4854 0 0 1 420 0)"><line class="i" x1="22" x2="649"/><rect class="u" x="22" y="-3" width="3" height="7"/><rect class="u" x="619" y="-3" width="30" height="7"/><rect class="e" x="24" y="-5.5" width="58" height="11" rx="9" ry="4.5"/><rect class="e" x="305" y="-5.5" width="37" height="11" rx="9" ry="4.5"/><rect class="e" x="411" y="-5.5" width="103" height="11" rx="9" ry="4.5"/><rect class="e" x="541" y="-5.5" width="30" height="11" rx="9" ry="4.5"/><rect class="e" x="587" y="-5.5" width="32" height="11" rx="9" ry="4.5"/></g></g>
<g id="WRKY43_1" transform="translate(0 1150.1)"><text class="l" transform="matrix(1.26 0 0 1 175 6.5)">ItfWRKY43.1</text><g transform="matrix(.4854 0 0 1 420 0)"><line class="i" x1="22" x2="802"/><rect class="u" x="22" y="-3" width="3" height="7"/><rect class="u" x="772" y="-3" width="30" height="7"/><rect class="e" x="24" y="-5.5" width="58" height="11" rx="9" ry="4.5"/><rect class="e" x="305" y="-5.5" width="37" height="11" rx="9" ry="4.5"/><rect class="e" x="411" y="-5.5" width="103" height="11" rx="9" ry="4.5"/><rect class="e" x="541" y="-5.5" width="30" height="11" rx="9" ry="4.5"/><rect class="e" x="587" y="-5.5" width="32" height="11" rx="9" ry="4.5"/><rect class="e" x="673" y="-5.5" width="99" height="11" rx="9" ry="4.5"/></g></g>
<g id="WRKY80" transform="translate(0 1171.3)"><text class="l" transform="matrix(1.26 0 0 1 175 6.5)">ItfWRKY80</text><g transform="matrix(.4854 0 0 1 420 0)"><line class="i" x1="22" x2="563"/><rect class="u" x="22" y="-3" width="30" height="7"/><rect class="u" x="532" y="-3" width="31" height="7"/><rect class="e" x="52" y="-5.5" width="62" height="11" rx="9" ry="4.5"/><rect class="e" x="143" y="-5.5" width="29" height="11" rx="9" ry="4.5"/><rect class="e" x="232" y="-5.5" width="120" height="11" rx="9" ry="4.5"/><rect class="e" x="376" y="-5.5" width="32" height="11" rx="9" ry="4.5"/><rect class="e" x="445" y="-5.5" width="87" height="11" rx="9" ry="4.5"/></g></g>
<g id="WRKY10" transform="translate(0 1192.5)"><text class="l" transform="matrix(1.26 0 0 1 175 6.5)">ItfWRKY10</text><g transform="matrix(.4854 0 0 1 420 0)"><line class="i" x1="22" x2="472"/><rect class="u" x="22" y="-3" width="30" height="7"/><rect class="u" x="442" y="-3" width="30" height="7"/><rect class="e" x="52" y="-5.5" width="195" height="11" rx="9" ry="4.5"/><rect class="e" x="269" y="-5.5" width="32" height="11" rx="9" ry="4.5"/><rect class="e" x="320" y="-5.5" width="122" height="11" rx="9" ry="4.5"/></g></g>
<g id="WRKY38" transform="translate(0 1213.6)"><text class="l" transform="matrix(1.26 0 0 1 175 6.5)">ItfWRKY38</text><g transform="matrix(.4854 0 0 1 420 0)"><line class="i" x1="22" x2="620"/><rect class="u" x="22" y="-3" width="30" height="7"/><rect class="u" x="590" y="-3" width="30" height="7"/><rect class="e" x="52" y="-5.5" width="85" height="11" rx="9" ry="4.5"/><rect class="e" x="198" y="-5.5" width="38" height="11" rx="9" ry="4.5"/><rect class="e" x="252" y="-5.5" width="154" height="11" rx="9" ry="4.5"/><rect class="e" x="428" y="-5.5" width="32" height="11" rx="9" ry="4.5"/><rect class="e" x="479" y="-5.5" width="111" height="11" rx="9" ry="4.5"/></g></g>
<g id="WRKY28_2" transform="translate(0 1234.8)"><text class="l" transform="matrix(1.26 0 0 1 175 6.5)">ItfWRKY28.2</text><g transform="matrix(.4854 0 0 1 420 0)"><line class="i" x1="22" x2="405"/><rect class="u" x="22" y="-3" width="9" height="7"/><rect class="u" x="374" y="-3" width="31" height="7"/><rect class="e" x="31" y="-5.5" width="31" height="11" rx="9" ry="4.5"/><rect class="e" x="88" y="-5.5" width="28" height="11" rx="9" ry="4.5"/><rect class="e" x="213" y="-5.5" width="107" height="11" rx="9" ry="4.5"/><rect class="e" x="341" y="-5.5" width="33" height="11" rx="9" ry="4.5"/></g></g>
<g id="WRKY28_1" transform="translate(0 1255.9)"><text class="l" transform="matrix(1.26 0 0 1 175 6.5)">ItfWRKY28.1</text><g transform="matrix(.4854 0 0 1 420 0)"><line class="i" x1="22" x2="550"/><rect class="u" x="22" y="-3" width="9" height="7"/><rect class="u" x="521" y="-3" width="29" height="7"/><rect class="e" x="31" y="-5.5" width="31" height="11" rx="9" ry="4.5"/><rect class="e" x="88" y="-5.5" width="28" height="11" rx="9" ry="4.5"/><rect class="e" x="213" y="-5.5" width="107" height="11" rx="9" ry="4.5"/><rect class="e" x="341" y="-5.5" width="33" height="11" rx="9" ry="4.5"/><rect class="e" x="452" y="-5.5" width="69" height="11" rx="9" ry="4.5"/></g></g>
<g id="WRKY42" transform="translate(0 1277.1)"><text class="l" transform="matrix(1.26 0 0 1 175 6.5)">ItfWRKY42</text><g transform="matrix(.4854 0 0 1 420 0)"><line class="i" x1="22" x2="646"/><rect class="u" x="22" y="-3" width="30" height="7"/><rect class="u" x="615" y="-3" width="31" height="7"/><rect class="e" x="52" y="-5.5" width="87" height="11" rx="9" ry="4.5"/><rect class="e" x="178" y="-5.5" width="38" height="11" rx="9" ry="4.5"/><rect class="e" x="238" y="-5.5" width="155" height="11" rx="9" ry="4.5"/><rect class="e" x="414" y="-5.5" width="32" height="11" rx="9" ry="4.5"/><rect class="e" x="501" y="-5.5" width="114" height="11" rx="9" ry="4.5"/></g></g>
<g id="WRKY83_2" transform="translate(0 1298.3)"><text class="l" transform="matrix(1.26 0 0 1 175 6.5)">ItfWRKY83.2</text><g transform="matrix(.4854 0 0 1 420 0)"><line class="i" x1="22" x2="609"/><rect class="u" x="22" y="-3" width="30" height="7"/><rect class="u" x="578" y="-3" width="31" height="7"/><rect class="e" x="52" y="-5.5" width="65" height="11" rx="9" ry="4.5"/><rect class="e" x="145" y="-5.5" width="31" height="11" rx="9" ry="4.5"/><rect class="e" x="299" y="-5.5" width="118" height="11" rx="9" ry="4.5"/><rect class="e" x="437" y="-5.5" width="32" height="11" rx="9" ry="4.5"/><rect class="e" x="492" y="-5.5" width="86" height="11" rx="9" ry="4.5"/></g></g>
<g id="WRKY83_1" transform="translate(0 1319.4)"><text class="l" transform="matrix(1.26 0 0 1 175 6.5)">ItfWRKY83.1</text><g transform="matrix(.4854 0 0 1 420 0)"><line class="i" x1="22" x2="500"/><rect class="u" x="22" y="-3" width="30" height="7"/><rect class="u" x="469" y="-3" width="31" height="7"/><rect class="e" x="52" y="-5.5" width="65" height="11" rx="9" ry="4.5"/><rect class="e" x="145" y="-5.5" width="31" height="11" rx="9" ry="4.5"/><rect class="e" x="299" y="-5.5" width="118" height="11" rx="9" ry="4.5"/><rect class="e" x="437" y="-5.5" width="32" height="11" rx="9" ry="4.5"/></g></g>
<g id="WRKY66" transform="translate(0 1340.6)"><text class="l" transform="matrix(1.26 0 0 1 175 6.5)">ItfWRKY66</text><g transform="matrix(.4854 0 0 1 420 0)"><line class="i" x1="22" x2="751"/><rect class="u" x="22" y="-3" width="30" height="7"/><rect class="u" x="721" y="-3" width="30" height="7"/><rect class="e" x="52" y="-5.5" width="195" height="11" rx="9" ry="4.5"/><rect class="e" x="264" y="-5.5" width="35" height="11" rx="9" ry="4.5"/><rect class="e" x="320" y="-5.5" width="31" height="11" rx="9" ry="4.5"/><rect class="e" x="673" y="-5.5" width="48" height="11" rx="9" ry="4.5"/></g></g>
<g id="WRKY16" transform="translate(0 1361.7)"><text class="l" transform="matrix(1.26 0 0 1 175 6.5)">ItfWRKY16</text><g transform="matrix(.4854 0 0 1 420 0)"><line class="i" x1="22" x2="599"/><rect class="u" x="22" y="-3" width="30" height="7"/><rect class="u" x="568" y="-3" width="31" height="7"/><rect class="e" x="52" y="-5.5" width="80" height="11" rx="9" ry="4.5"/><rect class="e" x="275" y="-5.5" width="141" height="11" rx="9" ry="4.5"/><rect class="e" x="443" y="-5.5" width="33" height="11" rx="9" ry="4.5"/><rect class="e" x="528" y="-5.5" width="40" height="11" rx="9" ry="4.5"/></g></g>
<g id="WRKY33" transform="translate(0 1382.9)"><text class="l" transform="matrix(1.26 0 0 1 175 6.5)">ItfWRKY33</text><g transform="matrix(.4854 0 0 1 420 0)"><line class="i" x1="22" x2="685"/><rect class="u" x="22" y="-3" width="30" height="7"/><rect class="u" x="654" y="-3" width="31" height="7"/><rect class="e" x="52" y="-5.5" width="82" height="11" rx="9" ry="4.5"/><rect class="e" x="320" y="-5.5" width="139" height="11" rx="9" ry="4.5"/><rect class="e" x="485" y="-5.5" width="33" height="11" rx="9" ry="4.5"/><rect class="e" x="614" y="-5.5" width="40" height="11" rx="9" ry="4.5"/></g></g>
<g id="WRKY48" transform="translate(0 1404.1)"><text class="l" transform="matrix(1.26 0 0 1 175 6.5)">ItfWRKY48</text><g transform="matrix(.4854 0 0 1 420 0)"><line class="i" x1="22" x2="1281"/><rect class="e" x="22" y="-5.5" width="24" height="11" rx="9" ry="4.5"/><rect class="e" x="261" y="-5.5" width="24" height="11" rx="9" ry="4.5"/><rect class="e" x="311" y="-5.5" width="12" height="11" rx="9" ry="4.5"/><rect class="e" x="340" y="-5.5" width="16" height="11" rx="9" ry="4.5"/><rect class="e" x="797" y="-5.5" width="98" height="11" rx="9" ry="4.5"/><rect class="e" x="1021" y="-5.5" width="129" height="11" rx="9" ry="4.5"/><rect class="e" x="1166" y="-5.5" width="33" height="11" rx="9" ry="4.5"/><rect class="e" x="1231" y="-5.5" width="50" height="11" rx="9" ry="4.5"/></g></g>
<g id="WRKY79" transform="translate(0 1425.2)"><text class="l" transform="matrix(1.26 0 0 1 175 6.5)">ItfWRKY79</text><g transform="matrix(.4854 0 0 1 420 0)"><line class="i" x1="22" x2="1001"/><rect class="u" x="22" y="-3" width="30" height="7"/><rect class="u" x="970" y="-3" width="31" height="7"/><rect class="e" x="52" y="-5.5" width="91" height="11" rx="9" ry="4.5"/><rect class="e" x="657" y="-5.5" width="138" height="11" rx="9" ry="4.5"/><rect class="e" x="817" y="-5.5" width="32" height="11" rx="9" ry="4.5"/><rect class="e" x="915" y="-5.5" width="55" height="11" rx="9" ry="4.5"/></g></g>
<g id="WRKY26_1" transform="translate(0 1446.4)"><text class="l" transform="matrix(1.26 0 0 1 175 6.5)">ItfWRKY26.1</text><g transform="matrix(.4854 0 0 1 420 0)"><line class="i" x1="22" x2="588"/><rect class="u" x="22" y="-3" width="30" height="7"/><rect class="u" x="557" y="-3" width="31" height="7"/><rect class="e" x="52" y="-5.5" width="41" height="11" rx="9" ry="4.5"/><rect class="e" x="116" y="-5.5" width="27" height="11" rx="9" ry="4.5"/><rect class="e" x="205" y="-5.5" width="143" height="11" rx="9" ry="4.5"/><rect class="e" x="383" y="-5.5" width="32" height="11" rx="9" ry="4.5"/><rect class="e" x="520" y="-5.5" width="37" height="11" rx="9" ry="4.5"/></g></g>
<g id="WRKY26_2" transform="translate(0 1467.5)"><text class="l" transform="matrix(1.26 0 0 1 175 6.5)">ItfWRKY26.2</text><g transform="matrix(.4854 0 0 1 420 0)"><line class="i" x1="22" x2="521"/><rect class="u" x="22" y="-3" width="30" height="7"/><rect class="u" x="490" y="-3" width="31" height="7"/><rect class="e" x="52" y="-5.5" width="24" height="11" rx="9" ry="4.5"/><rect class="e" x="140" y="-5.5" width="142" height="11" rx="9" ry="4.5"/><rect class="e" x="318" y="-5.5" width="32" height="11" rx="9" ry="4.5"/><rect class="e" x="454" y="-5.5" width="36" height="11" rx="9" ry="4.5"/></g></g>
<g id="WRKY75" transform="translate(0 1488.7)"><text class="l" transform="matrix(1.26 0 0 1 175 6.5)">ItfWRKY75</text><g transform="matrix(.4854 0 0 1 420 0)"><line class="i" x1="22" x2="787"/><rect class="u" x="22" y="-3" width="14" height="7"/><rect class="u" x="778" y="-3" width="9" height="7"/><rect class="e" x="36" y="-5.5" width="52" height="11" rx="9" ry="4.5"/><rect class="e" x="118" y="-5.5" width="10" height="11" rx="9" ry="4.5"/><rect class="e" x="427" y="-5.5" width="137" height="11" rx="9" ry="4.5"/><rect class="e" x="591" y="-5.5" width="32" height="11" rx="9" ry="4.5"/><rect class="e" x="710" y="-5.5" width="68" height="11" rx="9" ry="4.5"/></g></g>
<g id="WRKY77" transform="translate(0 1509.9)"><text class="l" transform="matrix(1.26 0 0 1 175 6.5)">ItfWRKY77</text><g transform="matrix(.4854 0 0 1 420 0)"><line class="i" x1="22" x2="361"/><rect class="u" x="22" y="-3" width="10" height="7"/><rect class="u" x="330" y="-3" width="31" height="7"/><rect class="e" x="32" y="-5.5" width="80" height="11" rx="9" ry="4.5"/><rect class="e" x="296" y="-5.5" width="34" height="11" rx="9" ry="4.5"/></g></g>
<g id="WRKY9" transform="translate(0 1531)"><text class="l" transform="matrix(1.26 0 0 1 175 6.5)">ItfWRKY9</text><g transform="matrix(.4854 0 0 1 420 0)"><line class="i" x1="22" x2="445"/><rect class="u" x="22" y="-3" width="25" height="7"/><rect class="u" x="413" y="-3" width="32" height="7"/><rect class="e" x="47" y="-5.5" width="92" height="11" rx="9" ry="4.5"/><rect class="e" x="188" y="-5.5" width="30" height="11" rx="9" ry="4.5"/><rect class="e" x="303" y="-5.5" width="110" height="11" rx="9" ry="4.5"/></g></g>
<g id="WRKY40" transform="translate(0 1552.2)"><text class="l" transform="matrix(1.26 0 0 1 175 6.5)">ItfWRKY40</text><g transform="matrix(.4854 0 0 1 420 0)"><line class="i" x1="22" x2="326"/><rect class="e" x="22" y="-5.5" width="66" height="11" rx="9" ry="4.5"/><rect class="e" x="290" y="-5.5" width="36" height="11" rx="9" ry="4.5"/></g></g>
<g id="WRKY29" transform="translate(0 1573.3)"><text class="l" transform="matrix(1.26 0 0 1 175 6.5)">ItfWRKY29</text><g transform="matrix(.4854 0 0 1 420 0)"><line class="i" x1="22" x2="1158"/><rect class="u" x="22" y="-3" width="11" height="7"/><rect class="u" x="1128" y="-3" width="30" height="7"/><rect class="e" x="33" y="-5.5" width="87" height="11" rx="9" ry="4.5"/><rect class="e" x="1092" y="-5.5" width="36" height="11" rx="9" ry="4.5"/></g></g>
<g id="WRKY56" transform="translate(0 1594.5)"><text class="l" transform="matrix(1.26 0 0 1 175 6.5)">ItfWRKY56</text><g transform="matrix(.4854 0 0 1 420 0)"><line class="i" x1="22" x2="362"/><rect class="e" x="22" y="-5.5" width="95" height="11" rx="9" ry="4.5"/><rect class="e" x="183" y="-5.5" width="29" height="11" rx="9" ry="4.5"/><rect class="e" x="282" y="-5.5" width="80" height="11" rx="9" ry="4.5"/></g></g>
<g id="WRKY4" transform="translate(0 1615.7)"><text class="l" transform="matrix(1.26 0 0 1 175 6.5)">ItfWRKY4</text><g transform="matrix(.4854 0 0 1 420 0)"><line class="i" x1="22" x2="387"/><rect class="u" x="22" y="-3" width="20" height="7"/><rect class="e" x="42" y="-5.5" width="93" height="11" rx="9" ry="4.5"/><rect class="e" x="157" y="-5.5" width="28" height="11" rx="9" ry="4.5"/><rect class="e" x="307" y="-5.5" width="80" height="11" rx="9" ry="4.5"/></g></g>
<g id="WRKY64" transform="translate(0 1636.8)"><text class="l" transform="matrix(1.26 0 0 1 175 6.5)">ItfWRKY64</text><g transform="matrix(.4854 0 0 1 420 0)"><line class="i" x1="22" x2="470"/><rect class="e" x="22" y="-5.5" width="81" height="11" rx="9" ry="4.5"/><rect class="e" x="239" y="-5.5" width="28" height="11" rx="9" ry="4.5"/><rect class="e" x="395" y="-5.5" width="75" height="11" rx="9" ry="4.5"/></g></g>
<g id="WRKY12" transform="translate(0 1658)"><text class="l" transform="matrix(1.26 0 0 1 175 6.5)">ItfWRKY12</text><g transform="matrix(.4854 0 0 1 420 0)"><line class="i" x1="22" x2="408"/><rect class="e" x="22" y="-5.5" width="105" height="11" rx="9" ry="4.5"/><rect class="e" x="236" y="-5.5" width="31" height="11" rx="9" ry="4.5"/><rect class="e" x="328" y="-5.5" width="80" height="11" rx="9" ry="4.5"/></g></g>
<g id="WRKY7" transform="translate(0 1679.1)"><text class="l" transform="matrix(1.26 0 0 1 175 6.5)">ItfWRKY7</text><g transform="matrix(.4854 0 0 1 420 0)"><line class="i" x1="22" x2="792"/><rect class="u" x="22" y="-3" width="30" height="7"/><rect class="u" x="762" y="-3" width="30" height="7"/><rect class="e" x="52" y="-5.5" width="81" height="11" rx="9" ry="4.5"/><rect class="e" x="553" y="-5.5" width="30" height="11" rx="9" ry="4.5"/><rect class="e" x="685" y="-5.5" width="77" height="11" rx="9" ry="4.5"/></g></g>
<g id="WRKY78" transform="translate(0 1700.3)"><text class="l" transform="matrix(1.26 0 0 1 175 6.5)">ItfWRKY78</text><g transform="matrix(.4854 0 0 1 420 0)"><line class="i" x1="22" x2="381"/><rect class="u" x="350" y="-3" width="31" height="7"/><rect class="e" x="22" y="-5.5" width="87" height="11" rx="9" ry="4.5"/><rect class="e" x="164" y="-5.5" width="29" height="11" rx="9" ry="4.5"/><rect class="e" x="262" y="-5.5" width="88" height="11" rx="9" ry="4.5"/></g></g>
<g id="WRKY47" transform="translate(0 1721.5)"><text class="l" transform="matrix(1.26 0 0 1 175 6.5)">ItfWRKY47</text><g transform="matrix(.4854 0 0 1 420 0)"><line class="i" x1="22" x2="511"/><rect class="u" x="22" y="-3" width="30" height="7"/><rect class="u" x="481" y="-3" width="30" height="7"/><rect class="e" x="52" y="-5.5" width="81" height="11" rx="9" ry="4.5"/><rect class="e" x="330" y="-5.5" width="30" height="11" rx="9" ry="4.5"/><rect class="e" x="409" y="-5.5" width="72" height="11" rx="9" ry="4.5"/></g></g>
<g id="WRKY58" transform="translate(0 1742.6)"><text class="l" transform="matrix(1.26 0 0 1 175 6.5)">ItfWRKY58</text><g transform="matrix(.4854 0 0 1 420 0)"><rect class="e" x="22" y="-5.5" width="78" height="11" rx="9" ry="4.5"/></g></g>
<g id="WRKY50" transform="translate(0 1763.8)"><text class="l" transform="matrix(1.26 0 0 1 175 6.5)">ItfWRKY50</text><g transform="matrix(.4854 0 0 1 420 0)"><rect class="e" x="22" y="-5.5" width="80" height="11" rx="9" ry="4.5"/></g></g>
<g id="WRKY25" transform="translate(0 1784.9)"><text class="l" transform="matrix(1.26 0 0 1 175 6.5)">ItfWRKY25</text><g transform="matrix(.4854 0 0 1 420 0)"><line class="i" x1="22" x2="850"/><rect class="u" x="22" y="-3" width="30" height="7"/><rect class="u" x="846" y="-3" width="5" height="7"/><rect class="e" x="52" y="-5.5" width="69" height="11" rx="9" ry="4.5"/><rect class="e" x="154" y="-5.5" width="14" height="11" rx="9" ry="4.5"/><rect class="e" x="305" y="-5.5" width="35" height="11" rx="9" ry="4.5"/><rect class="e" x="814" y="-5.5" width="34" height="11" rx="9" ry="4.5"/></g></g>
<g id="WRKY19" transform="translate(0 1806.1)"><text class="l" transform="matrix(1.26 0 0 1 175 6.5)">ItfWRKY19</text><g transform="matrix(.4854 0 0 1 420 0)"><line class="i" x1="22" x2="747"/><rect class="u" x="22" y="-3" width="20" height="7"/><rect class="u" x="723" y="-3" width="24" height="7"/><rect class="e" x="42" y="-5.5" width="69" height="11" rx="9" ry="4.5"/><rect class="e" x="149" y="-5.5" width="54" height="11" rx="9" ry="4.5"/><rect class="e" x="689" y="-5.5" width="34" height="11" rx="9" ry="4.5"/></g></g>
<g id="WRKY68" transform="translate(0 1827.3)"><text class="l" transform="matrix(1.26 0 0 1 175 6.5)">ItfWRKY68</text><g transform="matrix(.4854 0 0 1 420 0)"><line class="i" x1="22" x2="272"/><rect class="e" x="22" y="-5.5" width="41" height="11" rx="9" ry="4.5"/><rect class="e" x="80" y="-5.5" width="32" height="11" rx="9" ry="4.5"/><rect class="e" x="178" y="-5.5" width="94" height="11" rx="9" ry="4.5"/></g></g>
<g id="WRKY41" transform="translate(0 1848.4)"><text class="l" transform="matrix(1.26 0 0 1 175 6.5)">ItfWRKY41</text><g transform="matrix(.4854 0 0 1 420 0)"><line class="i" x1="22" x2="598"/><rect class="u" x="22" y="-3" width="5" height="7"/><rect class="u" x="568" y="-3" width="30" height="7"/><rect class="e" x="27" y="-5.5" width="47" height="11" rx="9" ry="4.5"/><rect class="e" x="101" y="-5.5" width="28" height="11" rx="9" ry="4.5"/><rect class="e" x="542" y="-5.5" width="26" height="11" rx="9" ry="4.5"/></g></g>
<g id="WRKY18" transform="translate(0 1869.6)"><text class="l" transform="matrix(1.26 0 0 1 175 6.5)">ItfWRKY18</text><g transform="matrix(.4854 0 0 1 420 0)"><line class="i" x1="22" x2="177"/><rect class="e" x="22" y="-5.5" width="18" height="11" rx="9" ry="4.5"/><rect class="e" x="61" y="-5.5" width="59" height="11" rx="9" ry="4.5"/><rect class="e" x="142" y="-5.5" width="35" height="11" rx="9" ry="4.5"/></g></g>
<g id="WRKY6" transform="translate(0 1890.7)"><text class="l" transform="matrix(1.26 0 0 1 175 6.5)">ItfWRKY6</text><g transform="matrix(.4854 0 0 1 420 0)"><line class="i" x1="22" x2="786"/><rect class="u" x="755" y="-3" width="31" height="7"/><rect class="e" x="22" y="-5.5" width="56" height="11" rx="9" ry="4.5"/><rect class="e" x="227" y="-5.5" width="29" height="11" rx="9" ry="4.5"/><rect class="e" x="730" y="-5.5" width="25" height="11" rx="9" ry="4.5"/></g></g>
<g id="WRKY45" transform="translate(0 1911.9)"><text class="l" transform="matrix(1.26 0 0 1 175 6.5)">ItfWRKY45</text><g transform="matrix(.4854 0 0 1 420 0)"><line class="i" x1="22" x2="584"/><rect class="u" x="22" y="-3" width="16" height="7"/><rect class="u" x="564" y="-3" width="20" height="7"/><rect class="e" x="38" y="-5.5" width="70" height="11" rx="9" ry="4.5"/><rect class="e" x="206" y="-5.5" width="32" height="11" rx="9" ry="4.5"/><rect class="e" x="525" y="-5.5" width="39" height="11" rx="9" ry="4.5"/></g></g>
<g id="WRKY32" transform="translate(0 1933.1)"><text class="l" transform="matrix(1.26 0 0 1 175 6.5)">ItfWRKY32</text><g transform="matrix(.4854 0 0 1 420 0)"><line class="i" x1="22" x2="298"/><rect class="e" x="22" y="-5.5" width="73" height="11" rx="9" ry="4.5"/><rect class="e" x="214" y="-5.5" width="30" height="11" rx="9" ry="4.5"/><rect class="e" x="270" y="-5.5" width="28" height="11" rx="9" ry="4.5"/></g></g>
<g id="WRKY31" transform="translate(0 1954.2)"><text class="l" transform="matrix(1.26 0 0 1 175 6.5)">ItfWRKY31</text><g transform="matrix(.4854 0 0 1 420 0)"><line class="i" x1="22" x2="354"/><rect class="u" x="22" y="-3" width="10" height="7"/><rect class="u" x="323" y="-3" width="31" height="7"/><rect class="e" x="32" y="-5.5" width="75" height="11" rx="9" ry="4.5"/><rect class="e" x="222" y="-5.5" width="31" height="11" rx="9" ry="4.5"/><rect class="e" x="296" y="-5.5" width="27" height="11" rx="9" ry="4.5"/></g></g>
<g id="WRKY1" transform="translate(0 1975.4)"><text class="l" transform="matrix(1.26 0 0 1 175 6.5)">ItfWRKY1</text><g transform="matrix(.4854 0 0 1 420 0)"><line class="i" x1="22" x2="366"/><rect class="u" x="334" y="-3" width="32" height="7"/><rect class="e" x="22" y="-5.5" width="53" height="11" rx="9" ry="4.5"/><rect class="e" x="241" y="-5.5" width="30" height="11" rx="9" ry="4.5"/><rect class="e" x="307" y="-5.5" width="27" height="11" rx="9" ry="4.5"/></g></g>
<g id="WRKY36" transform="translate(0 1996.5)"><text class="l" transform="matrix(1.26 0 0 1 175 6.5)">ItfWRKY36</text><g transform="matrix(.4854 0 0 1 420 0)"><rect class="e" x="22" y="-5.5" width="209" height="11" rx="9" ry="4.5"/></g></g>
<g id="WRKY76" transform="translate(0 2017.7)"><text class="l" transform="matrix(1.26 0 0 1 175 6.5)">ItfWRKY76</text><g transform="matrix(.4854 0 0 1 420 0)"><rect class="e" x="22" y="-5.5" width="155" height="11" rx="9" ry="4.5"/></g></g>
</g>
<g id="axis">
<line x1="431" y1="2045" x2="1144" y2="2045" stroke="#777" stroke-width="3.5"/>
<g stroke="#777" stroke-width="2">
<line x1="431" y1="2036" x2="431" y2="2045"/><line x1="545" y1="2036" x2="545" y2="2045"/><line x1="658" y1="2036" x2="658" y2="2045"/><line x1="772" y1="2036" x2="772" y2="2045"/><line x1="886" y1="2036" x2="886" y2="2045"/><line x1="1000" y1="2036" x2="1000" y2="2045"/><line x1="1113" y1="2036" x2="1113" y2="2045"/>
</g>
<text class="ax" x="401" y="2045">5'</text><text class="ax" x="1161" y="2047">3'</text>
<g text-anchor="middle">
<text class="ax" x="443" y="2087">0kb</text><text class="ax" x="554" y="2087">1kb</text><text class="ax" x="663" y="2087">2kb</text><text class="ax" x="779" y="2087">3kb</text><text class="ax" x="900" y="2087">4kb</text><text class="ax" x="1009" y="2087">5kb</text><text class="ax" x="1120" y="2087">6kb</text>
</g>
</g>
<g id="legend">
<rect x="425" y="2130" width="54" height="17" fill="#1670e6"/>
<rect x="538" y="2127" width="54" height="21" rx="7" fill="#f8a8aa"/>
<line x1="647" y1="2140" x2="701" y2="2140" stroke="#777" stroke-width="4"/>
<text class="ax" x="422" y="2184" font-size="27">UTR</text>
<text class="ax" x="534" y="2184" font-size="27">Exon</text>
</g>
</svg>
